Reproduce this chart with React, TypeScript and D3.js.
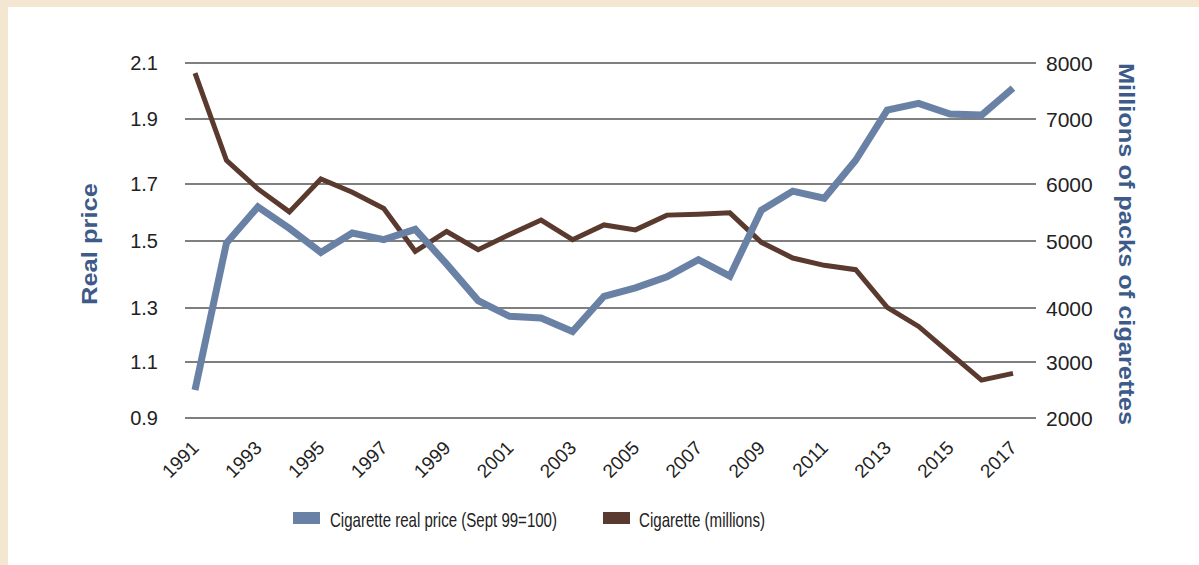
import React from "react";
import * as d3 from "d3";

const years: number[] = [
  1991, 1992, 1993, 1994, 1995, 1996, 1997, 1998, 1999, 2000, 2001, 2002, 2003, 2004,
  2005, 2006, 2007, 2008, 2009, 2010, 2011, 2012, 2013, 2014, 2015, 2016, 2017,
];
const realPrice: number[] = [
  1.0, 1.494, 1.62, 1.544, 1.466, 1.528, 1.505, 1.541, 1.431, 1.322, 1.269, 1.263, 1.213,
  1.335, 1.36, 1.393, 1.444, 1.395, 1.608, 1.675, 1.65, 1.773, 1.932, 1.956, 1.918, 1.914,
  2.01,
];
const packsMillions: number[] = [
  7820, 6363, 5914, 5511, 6078, 5856, 5569, 4846, 5167, 4871, 5115, 5368, 5023, 5282, 5195,
  5454, 5471, 5494, 4980, 4746, 4637, 4572, 4010, 3658, 3161, 2677, 2796,
];
const leftTicks: number[] = [0.9, 1.1, 1.3, 1.5, 1.7, 1.9, 2.1];
const rightTicks: number[] = [2000, 3000, 4000, 5000, 6000, 7000, 8000];
const xTickYears: number[] = years.filter((y) => (y - 1991) % 2 === 0);
const seriesNames: string[] = ["Cigarette real price (Sept 99=100)", "Cigarette (millions)"];

// layout
const W = 1199;
const H = 565;
const GRID_X0 = 185;
const GRID_X1 = 1036;
const GRID_Y = [418, 362, 308, 241, 184, 119, 63];
const BLUE = "#6a81a6";
const BROWN = "#5a3a2e";
const TITLE = "#3d5a88";
const FONT = "'Liberation Sans', Arial, sans-serif";

export default function App() {
  const x = d3.scalePoint<number>().domain(years).range([195, 1013]);
  const yL = d3.scaleLinear().domain(leftTicks).range(GRID_Y);
  const yR = d3.scaleLinear().domain(rightTicks).range(GRID_Y);

  const priceLine = d3
    .line<number>()
    .x((_, i) => x(years[i]) as number)
    .y((d) => yL(d));
  const packsLine = d3
    .line<number>()
    .x((_, i) => x(years[i]) as number)
    .y((d) => yR(d));

  return (
    <svg
      width={W}
      height={H}
      style={{ position: "fixed", left: 0, top: 0, display: "block" }}
      fontFamily={FONT}
    >
      <rect x={0} y={0} width={W} height={H} fill="#f3e7d2" />
      <rect x={8} y={7} width={W - 8} height={H - 7} fill="#ffffff" />

      {leftTicks.map((t) => (
        <line
          key={"g" + t}
          x1={GRID_X0}
          x2={GRID_X1}
          y1={yL(t)}
          y2={yL(t)}
          stroke="#7f7f7f"
          strokeWidth={2}
        />
      ))}

      {leftTicks.map((t) => (
        <text
          key={"l" + t}
          x={158}
          y={yL(t)}
          textAnchor="end"
          dominantBaseline="central"
          fontSize={20}
          fill="#222"
        >
          {d3.format(".1f")(t)}
        </text>
      ))}
      {rightTicks.map((t) => (
        <text
          key={"r" + t}
          x={1046}
          y={yR(t)}
          textAnchor="start"
          dominantBaseline="central"
          fontSize={21}
          fill="#222"
        >
          {t}
        </text>
      ))}

      {xTickYears.map((yr) => {
        const px = (x(yr) as number) + 5;
        const py = 449;
        return (
          <text
            key={"x" + yr}
            x={px}
            y={py}
            transform={`rotate(-45 ${px} ${py})`}
            textAnchor="end"
            fontSize={19}
            fill="#222"
          >
            {yr}
          </text>
        );
      })}

      <text
        transform="translate(97 244) rotate(-90)"
        textAnchor="middle"
        fontSize={22}
        fontWeight="bold"
        fill={TITLE}
        textLength={122}
        lengthAdjust="spacingAndGlyphs"
      >
        Real price
      </text>
      <text
        transform="translate(1119 244) rotate(90)"
        textAnchor="middle"
        fontSize={22}
        fontWeight="bold"
        fill={TITLE}
        textLength={362}
        lengthAdjust="spacingAndGlyphs"
      >
        Millions of packs of cigarettes
      </text>

      <path
        d={packsLine(packsMillions) || ""}
        fill="none"
        stroke={BROWN}
        strokeWidth={5}
        strokeLinejoin="miter"
      />
      <path
        d={priceLine(realPrice) || ""}
        fill="none"
        stroke={BLUE}
        strokeWidth={7}
        strokeLinejoin="miter"
      />

      <rect x={293} y={512} width={27} height={12} fill={BLUE} />
      <text
        x={330}
        y={519}
        dominantBaseline="central"
        fontSize={21}
        fill="#222"
        textLength={227}
        lengthAdjust="spacingAndGlyphs"
      >
        {seriesNames[0]}
      </text>
      <rect x={603} y={512} width={27} height={12} fill={BROWN} />
      <text
        x={639}
        y={519}
        dominantBaseline="central"
        fontSize={21}
        fill="#222"
        textLength={126}
        lengthAdjust="spacingAndGlyphs"
      >
        {seriesNames[1]}
      </text>
    </svg>
  );
}
